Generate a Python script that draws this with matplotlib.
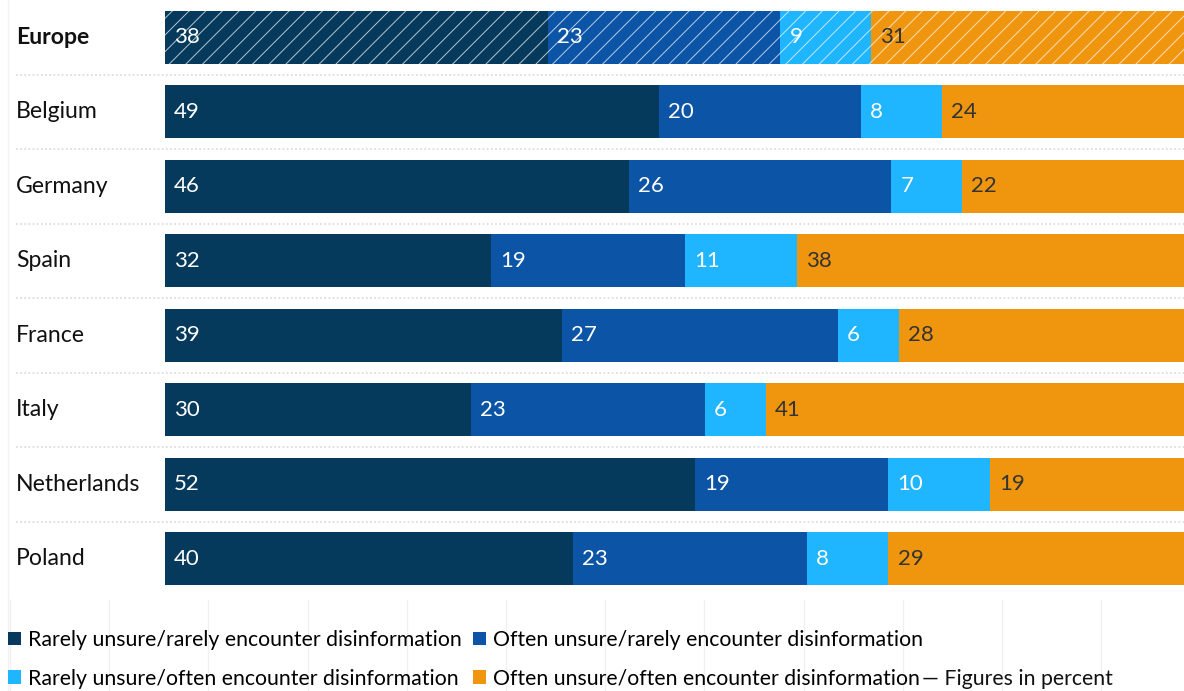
import matplotlib
matplotlib.use("Agg")
import matplotlib.pyplot as plt
from matplotlib.lines import Line2D
from matplotlib.transforms import blended_transform_factory
import numpy as np

plt.rcParams['font.family'] = ['Lato', 'DejaVu Sans']
plt.rcParams['hatch.linewidth'] = 0.7

countries = ['Europe', 'Belgium', 'Germany', 'Spain', 'France', 'Italy',
             'Netherlands', 'Poland']
rarely_rarely = [38, 49, 46, 32, 39, 30, 52, 40]
often_rarely = [23, 20, 26, 19, 27, 23, 19, 23]
rarely_often = [9, 8, 7, 11, 6, 6, 10, 8]
often_often = [31, 24, 22, 38, 28, 41, 19, 29]

series_labels = ['Rarely unsure/rarely encounter disinformation',
                 'Often unsure/rarely encounter disinformation',
                 'Rarely unsure/often encounter disinformation',
                 'Often unsure/often encounter disinformation']
colors = ['#063a5c', '#0c54a6', '#20b5ff', '#ef960e']
text_colors = ['white', 'white', 'white', '#333333']

W, H = 1184, 691
fig = plt.figure(figsize=(W / 100, H / 100), dpi=100)
ax = fig.add_axes([165 / W, 1 - 596 / H, 1 - 165 / W, 596 / H])

data = np.array([rarely_rarely, often_rarely, rarely_often, often_often], dtype=float)
# every bar is stretched to the full width
shares = data / data.sum(axis=0) * 100
y = np.arange(len(countries))

handles = []
left = np.zeros(len(countries))
for i in range(4):
    bars = ax.barh(y, shares[i], left=left, height=0.71, color=colors[i],
                   linewidth=0)
    handles.append(bars)
    # hatched aggregate row
    bars[0].set_hatch('//')
    bars[0].set_edgecolor((1, 1, 1, 0.7))
    for j in range(len(countries)):
        ax.annotate(f'{int(data[i, j])}', (left[j], y[j]), xytext=(6.5, 0),
                    textcoords='offset points', va='center', ha='left',
                    color=text_colors[i], fontsize=16)
    left += shares[i]

ax.set_xlim(0, 100)
ax.set_ylim(len(countries) - 0.5, -0.5)
ax.axis('off')

# country names and dotted row separators
lab_tr = blended_transform_factory(fig.transFigure, ax.transData)
for j, name in enumerate(countries):
    ax.text(16 / W, y[j], name, transform=lab_tr, ha='left', va='center',
            fontsize=16.6, color='#111111',
            fontweight='bold' if j == 0 else 'normal', clip_on=False)
for j in range(len(countries) - 1):
    ax.add_line(Line2D([16 / W, 1], [j + 0.5, j + 0.5], transform=lab_tr,
                       color='#d9d9d9', linestyle=(0, (1, 1.5)), lw=1.2,
                       clip_on=False))

# faint grid under the plot area
fig.add_artist(Line2D([8 / W, 8 / W], [0, 1], color='#f2f2f2', lw=1))
for gx in np.arange(10, W, 99.2):
    fig.add_artist(Line2D([gx / W, gx / W], [0, 1 - 600 / H],
                          color='#f0f0f0', lw=1))

order = [0, 2, 1, 3]
leg = fig.legend([handles[k] for k in order], [series_labels[k] for k in order],
                 ncol=2, loc='upper left', bbox_to_anchor=(8 / W, 1 - 630 / H),
                 frameon=False, fontsize=15.3, handlelength=0.62, handleheight=0.62,
                 handletextpad=0.3, columnspacing=0.55, labelspacing=0.88,
                 borderpad=0, borderaxespad=0)
for h in leg.legend_handles:
    h.set_hatch(None)

fig.canvas.draw()
last = leg.get_texts()[-1]
bb = last.get_window_extent()
fig.text((bb.x1 + 3) / W, (bb.y0 + bb.y1) / 2 / H, '\u2014 Figures in percent',
         ha='left', va='center', fontsize=15.3, color='#111111')

fig.savefig('out.png', dpi=100)
